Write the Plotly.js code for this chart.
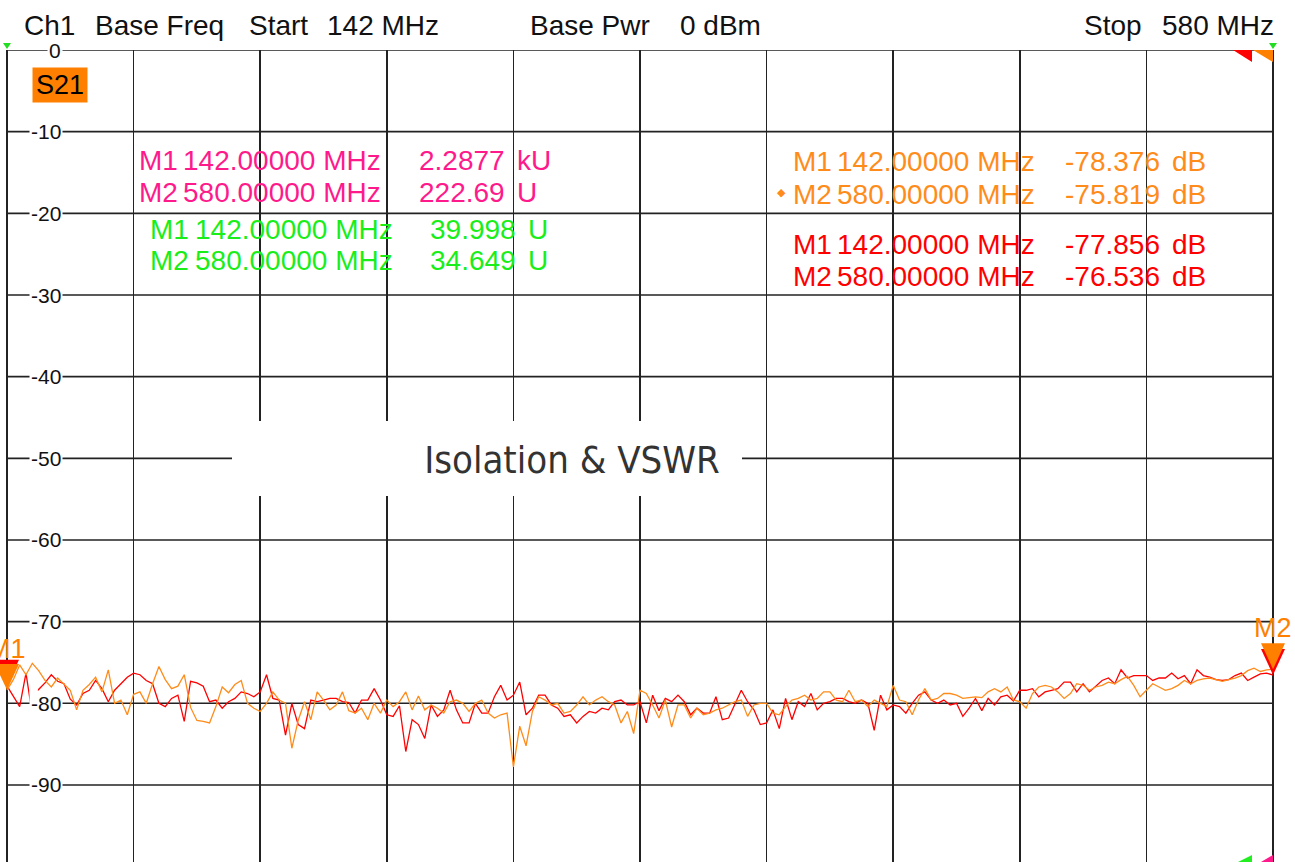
<!DOCTYPE html>
<html><head><meta charset="utf-8">
<script src="https://cdn.plot.ly/plotly-3.0.1.min.js"></script>
<style>html,body{margin:0;padding:0;background:#fff;overflow:hidden}#chart{width:1295px;height:862px}</style>
</head><body><div id="chart"></div>
<script>
// ---- Sweep settings ----
const startMHz = 142;
const stopMHz = 580;
const sweepPoints = 201;

// ---- Trace data (dB) ----
const isolationRed = [
-77.86,-79.2,-80.4,-76.3,-81.4,-78.3,-77.5,-76.5,-77.3,-77.6,-79.5,-80.2,-78.8,-78.4,-77.2,-78.2,-79.8,-78.4,-77.6,-76.8,-76.3,
-76.5,-77.2,-77.6,-80.0,-80.4,-79.4,-79.0,-82.2,-77.3,-77.5,-77.9,-79.8,-79.6,-80.6,-79.8,-79.4,-78.6,-78.8,-79.2,-78.6,
-76.5,-79.4,-79.6,-83.9,-80.0,-82.6,-83.1,-79.6,-79.8,-79.6,
-79.4,-79.4,-79.8,-79.9,-81.2,-79.6,-79.6,-78.2,-79.6,-81.4,
-81.6,-80.3,-85.9,-82.0,-82.6,-84.3,-80.2,-81.6,-80.8,-78.4,-80.8,-82.4,-82.4,-80.0,-81.2,-81.2,-79.2,-77.8,-79.6,-79.0,
-77.4,-81.4,-80.6,-79.0,-79.0,-80.2,-80.6,-81.6,-81.4,-82.4,-81.6,-81.0,-81.2,-80.6,-80.8,-79.8,-79.6,-80.2,-80.2,-79.8,
-82.4,-79.0,-80.9,-79.4,-79.8,-79.0,-79.8,-81.4,-80.6,-81.2,-81.2,-79.2,-82.0,-81.8,-80.0,-78.4,-79.8,-80.8,-82.6,-82.4,
-80.8,-83.1,-79.4,-82.0,-79.8,-80.4,-78.8,-80.8,-80.0,-79.8,-79.4,-79.4,-79.8,-80.0,-79.6,-80.0,-83.3,-79.0,-80.8,-80.2,
-80.4,-81.2,-80.0,-79.0,-78.6,-79.6,-80.0,-79.6,-80.2,-80.0,-81.6,-80.6,
-79.4,-80.9,-79.4,-80.2,-79.2,-79.0,-79.7,-78.4,-78.4,-78.2,-79.2,-78.6,-78.4,-78.2,-77.4,-77.4,-78.6,-77.6,-78.6,-77.9,
-77.2,-76.9,-77.6,-75.9,-76.9,-76.6,-76.6,-76.6,-77.2,-76.9,-76.9,-76.3,-77.0,-76.6,-77.6,-75.9,-76.6,-76.8,-77.1,-77.2,
-77.1,-76.6,-76.3,-77.2,-76.8,-76.4,-76.3,-76.54
];
const isolationOrange = [
-78.38,-77.1,-75.3,-76.5,-75.1,-76.0,-77.2,-78.0,-76.9,-77.6,-78.4,-80.8,-78.4,-77.7,-76.8,-78.6,-75.9,-80.0,-79.6,-81.4,-78.9,
-78.6,-80.0,-77.6,-75.5,-77.1,-78.2,-77.9,-76.5,-80.5,-82.1,-82.2,-82.4,-80.4,-78.0,-78.7,-77.7,-77.2,-80.0,-80.6,-81.0,
-80.0,-78.6,-79.6,-80.0,-85.5,-82.1,-79.8,-82.0,-78.6,-79.6,
-80.8,-80.2,-78.6,-80.9,-81.2,-80.6,-82.0,-80.0,-81.2,-79.6,
-80.4,-79.8,-78.6,-80.8,-79.1,-80.8,-80.2,-80.6,-81.2,-79.8,-79.6,-80.0,-81.0,-80.0,-79.6,-81.2,-81.8,-81.4,-81.2,-87.8,
-82.8,-85.2,-81.0,-79.2,-79.6,-80.2,-80.0,-81.2,-81.0,-80.2,-79.2,-80.2,-79.6,-79.2,-79.8,-80.2,-82.4,-81.0,-83.7,-78.4,
-78.8,-80.2,-81.8,-79.6,-82.9,-80.2,-80.2,-81.8,-80.6,-81.4,-81.2,-80.8,-80.6,-80.2,-79.8,-79.6,-81.6,-80.2,-80.0,-80.0,
-81.2,-81.4,-80.4,-79.6,-79.4,-79.0,-79.6,-79.4,-78.6,-78.6,-79.6,-79.8,-78.4,-79.8,-79.6,-80.4,-79.6,-80.0,-80.4,-77.8,
-79.6,-79.8,-81.4,-79.6,-78.2,-79.6,-79.4,-78.8,-78.8,-79.0,-79.4,-79.3,
-79.2,-79.3,-78.6,-78.2,-78.6,-78.0,-79.6,-79.8,-80.6,-78.8,-78.0,-77.8,-78.0,-78.6,-79.4,-78.8,-77.6,-77.8,-78.4,-78.0,
-77.8,-77.4,-77.6,-77.1,-76.7,-77.8,-79.2,-78.4,-77.6,-78.0,-78.4,-78.2,-77.8,-77.2,-77.6,-77.2,-77.0,-76.9,-77.1,-77.3,
-77.1,-76.9,-76.6,-76.0,-75.7,-76.1,-75.9,-75.82
];

// ---- Axis labels ----
const yTicks = [0, -10, -20, -30, -40, -50, -60, -70, -80, -90];
const yTickLabels = ['0', '-10', '-20', '-30', '-40', '-50', '-60', '-70', '-80', '-90'];

// ---- Markers ----
const markerNames = ['M1', 'M2'];
const markerFreqs = [142, 580];
const orangeMarkerVals = [-78.376, -75.819];
const redMarkerVals = [-77.856, -76.536];
const pinkVswrVals = ['2.2877', '222.69'];
const pinkVswrUnits = ['kU', 'U'];
const greenVswrVals = ['39.998', '34.649'];
const greenVswrUnits = ['U', 'U'];

// ---- Header texts ----
const headerTexts = ['Ch1', 'Base Freq', 'Start', '142 MHz', 'Base Pwr', '0 dBm', 'Stop', '580 MHz'];

// ---- geometry helpers (page pixels -> paper) ----
const W = 1295, H = 862, T = 50;
const px = x => x / W;
const py = y => (H - y) / (H - T);
const FONT = 'Liberation Sans, Arial, sans-serif';
const GRID = '#222222';
const C_RED = '#ff0000', C_ORANGE = '#ff8c1a', C_PINK = '#ff1a8c', C_GREEN = '#1aee1a';

const stepMHz = (stopMHz - startMHz) / (sweepPoints - 1);

const traces = [
  {type: 'scatter', mode: 'lines', name: 'S21 (red)', x0: startMHz, dx: stepMHz, y: isolationRed,
   line: {color: C_RED, width: 1.3}, hoverinfo: 'skip', showlegend: false},
  {type: 'scatter', mode: 'lines', name: 'S21', x0: startMHz, dx: stepMHz, y: isolationOrange,
   line: {color: C_ORANGE, width: 1.3}, hoverinfo: 'skip', showlegend: false}
];

const shapes = [];
yTicks.forEach(v => shapes.push({type: 'line', xref: 'x', yref: 'y', x0: startMHz, x1: stopMHz, y0: v, y1: v,
  line: {color: GRID, width: 1.6}, layer: 'below'}));
// title box
shapes.push({type: 'rect', xref: 'paper', yref: 'paper', x0: px(232), x1: px(742), y0: py(496), y1: py(421),
  fillcolor: '#ffffff', line: {width: 0}, layer: 'above'});
// marker triangles
[[redMarkerVals, C_RED], [orangeMarkerVals, '#ff8000']].forEach(([vals, col]) => {
  vals.forEach((v, i) => shapes.push({type: 'path', xref: 'x', yref: 'y', xsizemode: 'pixel', ysizemode: 'pixel',
    xanchor: markerFreqs[i], yanchor: v, path: 'M-12,26 L12,26 L0,0 Z', fillcolor: col, line: {width: 0}, layer: 'above'}));
});
// decorative indicators
function pPath(pts) { return 'M' + pts.map(p => px(p[0]) + ',' + py(p[1])).join(' L') + ' Z'; }
[
  [[[3,43],[11,43],[7,49]], '#22dd22'],
  [[[1269,43],[1277,43],[1273,49]], '#22dd22'],
  [[[1233,50],[1252,50],[1252,62]], '#ff0000'],
  [[[1253,50],[1273,50],[1273,62]], '#ff8000'],
  [[[1252,855],[1252,862],[1238,862]], '#22ee22'],
  [[[1273,855],[1273,862],[1261,862]], '#ff1a8c']
].forEach(([pts, col]) => shapes.push({type: 'path', xref: 'paper', yref: 'paper', path: pPath(pts),
  fillcolor: col, line: {width: 0}, layer: 'above'}));

const ann = [];
// y tick labels
yTicks.forEach((v, i) => ann.push({xref: 'paper', yref: 'y', x: px(63), y: v, xanchor: 'right', yanchor: 'middle',
  text: yTickLabels[i], showarrow: false, bgcolor: '#ffffff', borderpad: 1, font: {family: FONT, size: 21, color: '#111'}}));
// header
const headerX = [22, 93, 247, 325, 528, 678, 1082, 1160];
headerTexts.forEach((t, i) => ann.push({xref: 'paper', yref: 'paper', x: px(headerX[i]), y: py(25), xanchor: 'left',
  yanchor: 'middle', text: t, showarrow: false, font: {family: FONT, size: 28, color: '#111'}}));
// S21 box
ann.push({xref: 'paper', yref: 'paper', x: px(60), y: py(85), xanchor: 'center', yanchor: 'middle', text: 'S21',
  showarrow: false, bgcolor: '#ff8000', width: 50, height: 30, borderpad: 2, font: {family: FONT, size: 27, color: '#000'}});

function readout(rowY, col, xLabel, xFreq, xValR, xUnit, label, freqText, valText, unitText) {
  const y = py(rowY + 2);
  const f = {family: FONT, size: 28, color: col};
  ann.push({xref: 'paper', yref: 'paper', x: px(xLabel), y: y, xanchor: 'left', yanchor: 'middle', text: label, showarrow: false, font: f});
  ann.push({xref: 'paper', yref: 'paper', x: px(xFreq), y: y, xanchor: 'left', yanchor: 'middle', text: freqText, showarrow: false, font: f});
  ann.push({xref: 'paper', yref: 'paper', x: px(xValR), y: y, xanchor: 'right', yanchor: 'middle', text: valText, showarrow: false, font: f});
  ann.push({xref: 'paper', yref: 'paper', x: px(xUnit), y: y, xanchor: 'left', yanchor: 'middle', text: unitText, showarrow: false, font: f});
}
const fmtF = f => f.toFixed(5) + ' MHz';
markerNames.forEach((m, i) => {
  readout([158, 191][i], C_PINK, 137, 181, 507, 515, m, fmtF(markerFreqs[i]), pinkVswrVals[i], pinkVswrUnits[i]);
  readout([227, 258][i], C_GREEN, 148, 193, 518, 526, m, fmtF(markerFreqs[i]), greenVswrVals[i], greenVswrUnits[i]);
  readout([159, 192][i], C_ORANGE, 791, 835, 1162, 1170, m, fmtF(markerFreqs[i]), orangeMarkerVals[i].toFixed(3), 'dB');
  readout([242, 274][i], C_RED, 791, 835, 1162, 1170, m, fmtF(markerFreqs[i]), redMarkerVals[i].toFixed(3), 'dB');
});
// active marker diamond
ann.push({xref: 'paper', yref: 'paper', x: px(781), y: py(193), xanchor: 'center', yanchor: 'middle', text: '\u25C6',
  showarrow: false, font: {family: 'DejaVu Sans, sans-serif', size: 11, color: C_ORANGE}});
// marker labels (active orange trace)
orangeMarkerVals.forEach((v, i) => ann.push({xref: 'x', yref: 'y', x: markerFreqs[i], y: v, xanchor: 'center', yanchor: 'bottom',
  yshift: 24, text: markerNames[i], showarrow: false, font: {family: FONT, size: 27, color: '#ff8000'}}));

const layout = {
  width: W, height: H,
  margin: {l: 0, r: 0, t: T, b: 0, pad: 0},
  paper_bgcolor: '#ffffff', plot_bgcolor: '#ffffff',
  showlegend: false,
  title: {text: 'Isolation &amp; VSWR', x: px(572), xref: 'paper', xanchor: 'center', y: 1 - 460 / H, yref: 'container',
    yanchor: 'middle', font: {family: 'Liberation Sans Narrow, DejaVu Sans Condensed, sans-serif', size: 38, color: '#333'}},
  xaxis: {range: [139.5782, 587.6118], showgrid: true, gridcolor: GRID, gridwidth: 1.6, tick0: startMHz, dtick: 43.8,
    showticklabels: false, ticks: '', zeroline: false, showline: false, fixedrange: true},
  yaxis: {range: [-99.43, 0], showgrid: false, zeroline: false, showticklabels: false, ticks: '', showline: false, fixedrange: true},
  shapes: shapes,
  annotations: ann
};

Plotly.newPlot('chart', traces, layout, {staticPlot: true, displayModeBar: false});
</script>
</body></html>
